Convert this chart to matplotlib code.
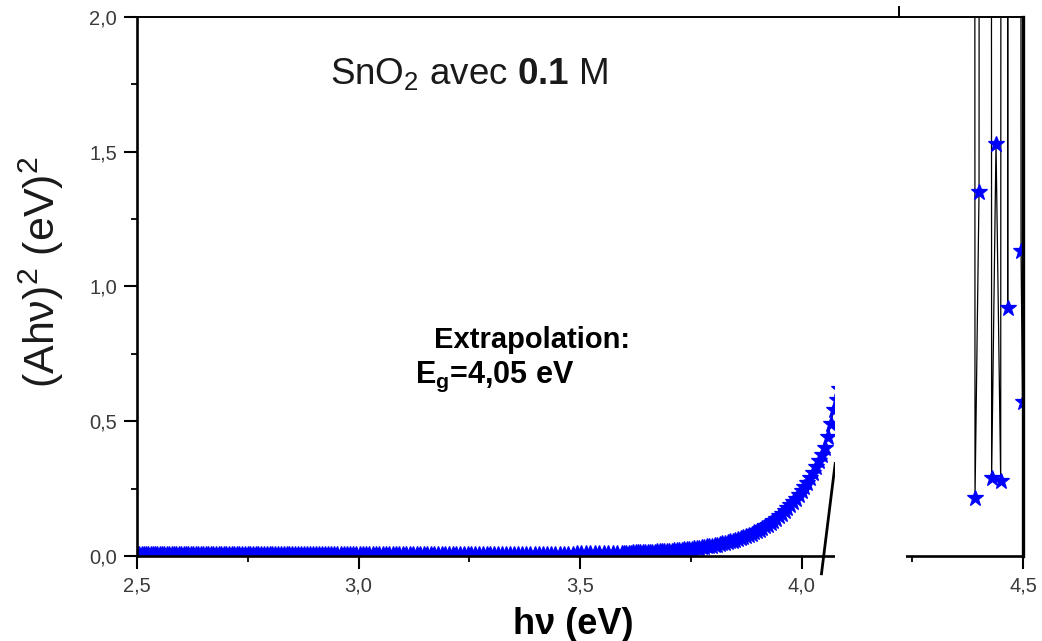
import numpy as np
import matplotlib
matplotlib.use("Agg")
import matplotlib.pyplot as plt
from matplotlib.patches import Rectangle
from matplotlib.transforms import blended_transform_factory

plt.rcParams["font.family"] = ["Liberation Sans", "DejaVu Sans"]
plt.rcParams["mathtext.fontset"] = "custom"
plt.rcParams["mathtext.rm"] = "Liberation Sans"
plt.rcParams["mathtext.it"] = "Liberation Sans:italic"
plt.rcParams["mathtext.bf"] = "Liberation Sans:bold"

# ---- Tauc data: (A h nu)^2 versus photon energy ----
# below the edge: 1 nm wavelength steps
wl_flat = np.arange(496.0, 345.5, -1.0)
ahv2_flat = [
    0.0080, 0.0080, 0.0080, 0.0080, 0.0080, 0.0080, 0.0080, 0.0080, 0.0080, 0.0080,
    0.0080, 0.0080, 0.0080, 0.0080, 0.0080, 0.0080, 0.0080, 0.0080, 0.0080, 0.0080,
    0.0080, 0.0080, 0.0080, 0.0080, 0.0080, 0.0080, 0.0080, 0.0080, 0.0080, 0.0080,
    0.0080, 0.0080, 0.0080, 0.0080, 0.0080, 0.0080, 0.0080, 0.0080, 0.0080, 0.0080,
    0.0080, 0.0080, 0.0080, 0.0080, 0.0080, 0.0080, 0.0080, 0.0080, 0.0080, 0.0080,
    0.0080, 0.0080, 0.0080, 0.0080, 0.0080, 0.0080, 0.0080, 0.0080, 0.0080, 0.0080,
    0.0080, 0.0080, 0.0080, 0.0080, 0.0080, 0.0080, 0.0080, 0.0080, 0.0080, 0.0080,
    0.0080, 0.0080, 0.0080, 0.0080, 0.0080, 0.0080, 0.0080, 0.0080, 0.0080, 0.0080,
    0.0080, 0.0080, 0.0080, 0.0080, 0.0080, 0.0080, 0.0080, 0.0080, 0.0080, 0.0080,
    0.0080, 0.0080, 0.0080, 0.0080, 0.0080, 0.0080, 0.0080, 0.0080, 0.0080, 0.0080,
    0.0080, 0.0080, 0.0080, 0.0080, 0.0080, 0.0080,
    0.0081, 0.0081, 0.0081, 0.0081, 0.0081, 0.0081, 0.0081, 0.0081, 0.0081, 0.0081,
    0.0083, 0.0083, 0.0083, 0.0083, 0.0083, 0.0083, 0.0083, 0.0083, 0.0083, 0.0083,
    0.0086, 0.0086, 0.0086, 0.0086, 0.0086, 0.0086, 0.0086, 0.0086, 0.0086, 0.0086,
    0.0090, 0.0090, 0.0090, 0.0090, 0.0090,
    0.0096, 0.0096, 0.0096, 0.0096, 0.0096,
    0.0104, 0.0107, 0.0109, 0.0113, 0.0116,
]
# across the absorption edge: 0.5 nm wavelength steps
wl_edge = np.arange(345.0, 303.4, -0.5)
ahv2_edge = [
    0.0120, 0.0122, 0.0125, 0.0127, 0.0129, 0.0132, 0.0135, 0.0138, 0.0141, 0.0144,
    0.0148, 0.0152, 0.0156, 0.0160, 0.0164, 0.0169, 0.0174, 0.0179, 0.0185, 0.0191,
    0.0197, 0.0204, 0.0211, 0.0218, 0.0226, 0.0235, 0.0244, 0.0253, 0.0263, 0.0274,
    0.0286, 0.0298, 0.0310, 0.0324, 0.0338, 0.0354, 0.0370, 0.0387, 0.0406, 0.0425,
    0.0446, 0.0469, 0.0492, 0.0517, 0.0544, 0.0572, 0.0602, 0.0635, 0.0669, 0.0706,
    0.0745, 0.0786, 0.0830, 0.0877, 0.0928, 0.0982, 0.1039, 0.1101, 0.1166, 0.1236,
    0.1310, 0.1389, 0.1473, 0.1564, 0.1662, 0.1765, 0.1876, 0.1993, 0.2119, 0.2256,
    0.2400, 0.2556, 0.2720, 0.2897, 0.3090, 0.3291, 0.3510, 0.3744, 0.3990, 0.4400,
    0.4900, 0.5400, 0.5800, 0.6200,
]
# noisy high-energy tail (values above 2 run off the top of the frame)
hv_tail = [4.3838, 4.3916, 4.4007, 4.4085, 4.4163, 4.4213, 4.4291, 4.4390,
           4.4496, 4.4574, 4.4654, 4.4732, 4.4810, 4.4877, 4.4955, 4.4988, 4.5066]
ahv2_tail = [40.0, 0.216, 1.35, 40.0, 40.0, 40.0, 0.29, 1.53,
             0.28, 40.0, 0.92, 40.0, 40.0, 40.0, 1.13, 0.57, 40.0]

# linear extrapolation of the edge
EG = 4.05
FIT_SLOPE = 13.2
fit_hv = [4.045, 4.076]

# axis break (hidden energy window)
BREAK_LO, BREAK_HI = 4.075, 4.235
BREAK_MARK = 4.22

x_ticks = [2.5, 3.0, 3.5, 4.0, 4.5]
x_ticklabels = ["2,5", "3,0", "3,5", "4,0", "4,5"]
x_minor = [2.75, 3.25, 3.75, 4.25]
y_ticks = [0.0, 0.5, 1.0, 1.5, 2.0]
y_ticklabels = ["0,0", "0,5", "1,0", "1,5", "2,0"]
y_minor = [0.25, 0.75, 1.25, 1.75]

hv_flat = 1240.0 / wl_flat
hv_edge = 1240.0 / wl_edge
hv_left = np.concatenate([hv_flat, hv_edge])
ahv2_left = np.concatenate([ahv2_flat, ahv2_edge])

fig = plt.figure(figsize=(10.42, 6.41), dpi=100)
ax = fig.add_axes([0.1315, 0.1326, 0.8503, 0.8409])

style = dict(color="black", lw=0.9, marker="*", ms=12,
             mfc="#0000ff", mec="#0000ff", mew=0.9)
ax.plot(hv_left, ahv2_left, **style)
ax.plot(hv_tail, ahv2_tail, **style)

fit_y = [FIT_SLOPE * (h - EG) for h in fit_hv]
ax.plot(fit_hv, fit_y, color="black", lw=2.0, clip_on=False, zorder=2.6)

ax.set_xlim(2.5, 4.5)
ax.set_ylim(0.0, 2.0)
ax.set_xticks(x_ticks)
ax.set_xticklabels(x_ticklabels)
ax.set_xticks(x_minor, minor=True)
ax.set_yticks(y_ticks)
ax.set_yticklabels(y_ticklabels)
ax.set_yticks(y_minor, minor=True)
ax.tick_params(which="both", direction="out", top=False, right=False,
               labelsize=14.5, labelcolor="#3a3a3a", pad=5)
ax.tick_params(which="major", length=9.5, width=1.5)
ax.tick_params(which="minor", length=4.5, width=1.3)

ax.spines["left"].set_linewidth(1.9)
ax.spines["bottom"].set_linewidth(1.9)
ax.spines["top"].set_linewidth(1.4)
ax.spines["right"].set_linewidth(2.4)

# white band hiding the broken part of the energy axis
trans = blended_transform_factory(ax.transData, ax.transAxes)
ax.add_patch(Rectangle((BREAK_LO, -0.08), BREAK_HI - BREAK_LO, 1.076,
                       transform=trans, facecolor="white", edgecolor="none",
                       zorder=5, clip_on=False))
ax.plot([BREAK_MARK, BREAK_MARK], [1.0, 1.018], transform=trans,
        color="black", lw=1.4, clip_on=False, zorder=6)

fig.text(0.040, 0.576, "(Ahν)$^2$ (eV)$^2$", rotation=90,
         ha="center", va="center", fontsize=31, color="#1a1a1a")
fig.text(0.550, 0.025, "hν (eV)", ha="center", va="center",
         fontsize=26, fontweight="bold")
fig.text(0.317, 0.884, r"SnO$_2$ avec $\mathbf{0.1}$ M", ha="left",
         va="center", fontsize=26.5, color="#1a1a1a")
fig.text(0.511, 0.470, "Extrapolation:", ha="center", va="center",
         fontsize=21, fontweight="bold")
fig.text(0.398, 0.412, r"$\mathbf{E_g}$=4,05 eV", ha="left",
         va="center", fontsize=22, fontweight="bold")

fig.savefig("out.png", dpi=100)
